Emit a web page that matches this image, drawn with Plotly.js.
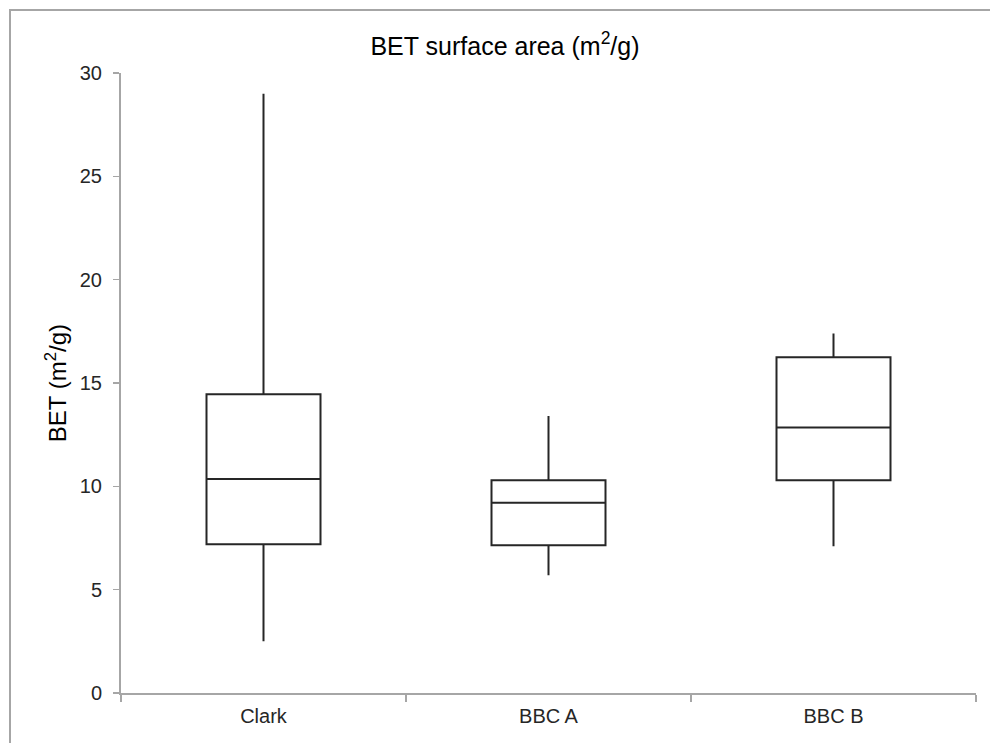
<!DOCTYPE html>
<html>
<head>
<meta charset="utf-8">
<script src="https://cdn.plot.ly/plotly-3.0.1.min.js"></script>
<style>
  html, body { margin: 0; padding: 0; background: #fff; }
  #chart { width: 990px; height: 743px; }
</style>
</head>
<body>
<div id="chart"></div>
<script>
// Sample groups and their five-number summaries (m²/g)
const groups = ['Clark', 'BBC A', 'BBC B'];
const minima = [2.5, 5.7, 7.1];
const q1s = [7.2, 7.15, 10.3];
const medians = [10.35, 9.2, 12.85];
const q3s = [14.45, 10.3, 16.25];
const maxima = [29.0, 13.4, 17.4];

const boxTrace = {
  type: 'box',
  x: groups,
  lowerfence: minima,
  q1: q1s,
  median: medians,
  q3: q3s,
  upperfence: maxima,
  boxpoints: false,
  whiskerwidth: 0,
  width: 0.4,
  fillcolor: '#ffffff',
  line: { color: '#262626', width: 2 },
  hoverinfo: 'skip',
  showlegend: false
};

const axisGrey = '#a6a6a6';

const layout = {
  width: 990,
  height: 743,
  margin: { l: 121, r: 14, t: 73, b: 50 },
  paper_bgcolor: '#ffffff',
  plot_bgcolor: '#ffffff',
  font: { family: 'Liberation Sans, Arial, sans-serif', color: '#262626', size: 20 },
  title: {
    text: 'BET surface area (m<sup>2</sup>/g)',
    font: { size: 25, color: '#000000' },
    x: 505 / 990, xref: 'container', xanchor: 'center',
    y: 1 - 46 / 743, yref: 'container', yanchor: 'middle'
  },
  xaxis: {
    type: 'category',
    range: [-0.5, 2.5],
    showline: true,
    linecolor: axisGrey,
    linewidth: 2,
    ticks: 'outside',
    tickson: 'boundaries',
    ticklen: 7,
    tickwidth: 1.5,
    tickcolor: axisGrey,
    showgrid: false,
    zeroline: false,
    tickfont: { size: 20, color: '#262626' },
    ticklabelstandoff: 4,
    fixedrange: true
  },
  yaxis: {
    range: [0, 30],
    tickvals: [0, 5, 10, 15, 20, 25, 30],
    showline: true,
    linecolor: axisGrey,
    linewidth: 2,
    ticks: 'outside',
    ticklen: 6,
    tickwidth: 1.5,
    tickcolor: axisGrey,
    showgrid: false,
    zeroline: false,
    tickfont: { size: 20, color: '#262626' },
    ticklabelstandoff: 7,
    title: {
      text: 'BET (m<sup>2</sup>/g)',
      font: { size: 24, color: '#000000' },
      standoff: 6
    },
    automargin: false,
    fixedrange: true
  },
  shapes: [{
    type: 'rect',
    xref: 'paper', yref: 'paper',
    x0: (10 - 121) / 855, x1: 1.1,
    y0: -0.2, y1: (692.7 - 10) / 619.7,
    line: { color: axisGrey, width: 2 },
    fillcolor: 'rgba(0,0,0,0)',
    layer: 'below'
  }]
};

Plotly.newPlot('chart', [boxTrace], layout, { displayModeBar: false, staticPlot: true });
</script>
</body>
</html>
